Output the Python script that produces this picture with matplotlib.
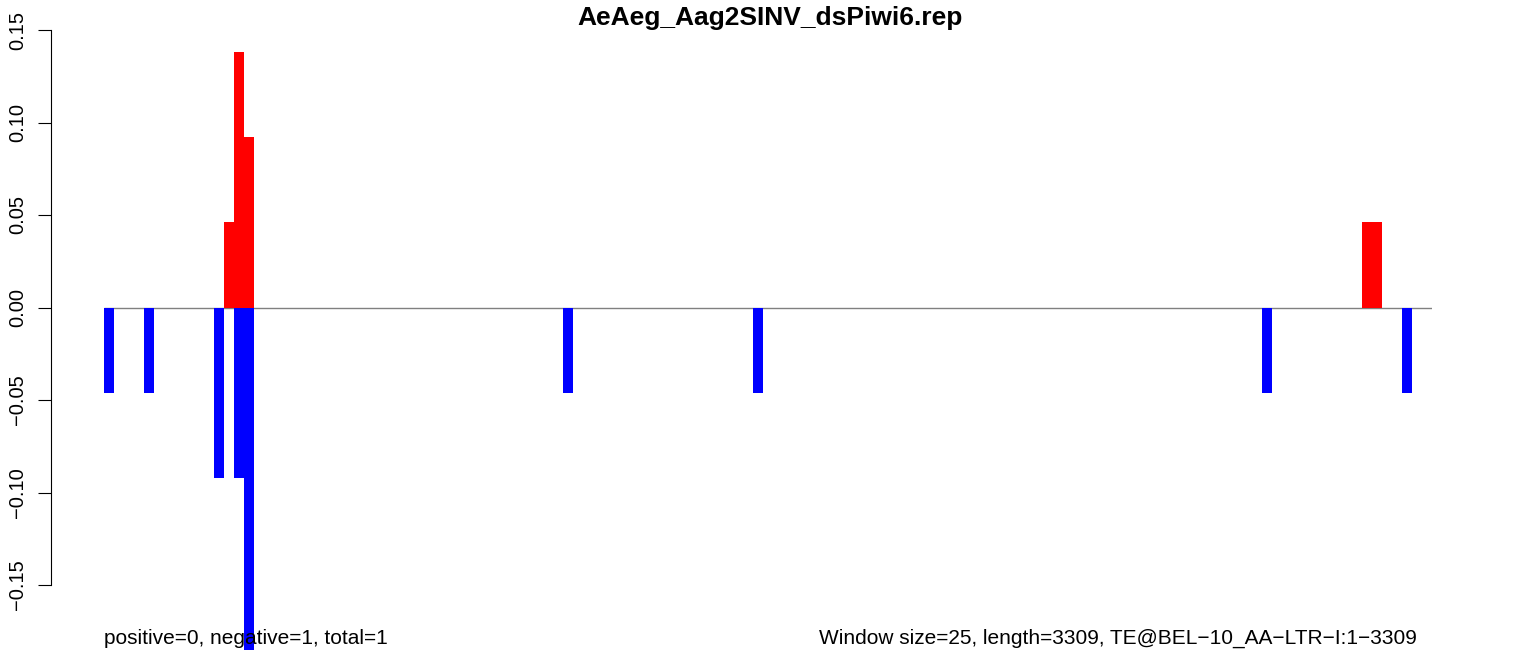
import matplotlib
matplotlib.use("Agg")
import matplotlib.pyplot as plt
import numpy as np

plt.rcParams['font.family'] = ['Liberation Sans', 'DejaVu Sans']

title = "AeAeg_Aag2SINV_dsPiwi6.rep"
left_note = "positive=0, negative=1, total=1"
right_note = "Window size=25, length=3309, TE@BEL\u221210_AA\u2212LTR\u2212I:1\u22123309"

n_windows = 133  # ceil(3309 / 25)
pos_windows = [12, 13, 14, 126, 127]
pos_values = [0.046, 0.138, 0.092, 0.046, 0.046]
neg_windows = [0, 4, 11, 13, 14, 46, 65, 116, 130]
neg_values = [-0.046, -0.046, -0.092, -0.092, -0.185, -0.046, -0.046, -0.046, -0.046]
ytick_values = [-0.15, -0.10, -0.05, 0.00, 0.05, 0.10, 0.15]
ytick_labels = ["\u22120.15", "\u22120.10", "\u22120.05", "0.00", "0.05", "0.10", "0.15"]

W, H = 1536, 654
px_per_win = (1432 - 104) / n_windows
fig = plt.figure(figsize=(W / 100, H / 100), dpi=100)
ax = fig.add_axes([51 / W, 0, (1432 - 51) / W, 1])
ax.set_xlim(-(104 - 51) / px_per_win, n_windows)
ax.set_ylim(-(H - 307.5) / 1850, 307.5 / 1850)
ax.patch.set_visible(False)

ax.hlines(0, 0, n_windows, color='#808080', linewidth=1.0, zorder=1)
ax.bar(pos_windows, pos_values, width=1.0, align='edge', color='#FF0000',
       linewidth=0, zorder=2, clip_on=False)
ax.bar(neg_windows, neg_values, width=1.0, align='edge', color='#0000FF',
       linewidth=0, zorder=2, clip_on=False)

for s in ['top', 'right', 'bottom']:
    ax.spines[s].set_visible(False)
ax.spines['left'].set_bounds(-0.15, 0.15)
ax.spines['left'].set_linewidth(0.8)
ax.set_xticks([])
ax.set_yticks(ytick_values)
ax.set_yticklabels(ytick_labels, rotation=90, va='center', fontsize=14.5)
ax.tick_params(axis='y', length=9.4, width=0.8, pad=8, direction='out')

fig.text(770 / W, 1 - 18 / H, title, ha='center', va='center',
         fontsize=19, fontweight='bold')
fig.text(104 / W, 1 - 638 / H, left_note, ha='left', va='center', fontsize=15)
fig.text(1417 / W, 1 - 638 / H, right_note, ha='right', va='center', fontsize=15)

fig.savefig("out.png", dpi=100)
